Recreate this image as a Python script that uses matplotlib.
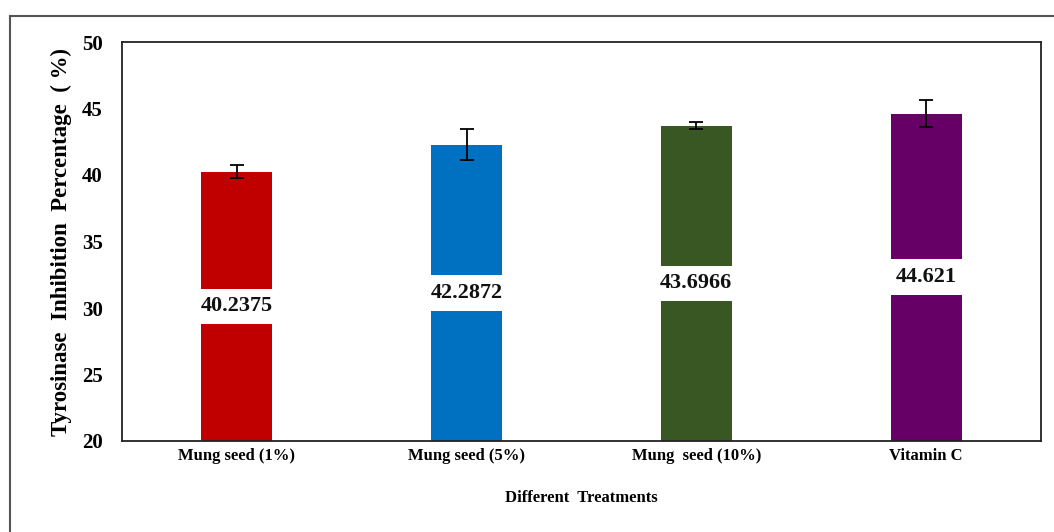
import matplotlib.pyplot as plt
from matplotlib.lines import Line2D

treatments = ["Mung seed (1%)", "Mung seed (5%)", "Mung  seed (10%)", "Vitamin C"]
inhibition = [40.2375, 42.2872, 43.6966, 44.621]
errors = [0.5, 1.15, 0.27, 1.0]
value_labels = ["40.2375", "42.2872", "43.6966", "44.621"]
bar_colors = ["#C00000", "#0070C0", "#385723", "#660066"]
y_ticks = [20, 25, 30, 35, 40, 45, 50]

plt.rcParams["font.family"] = ["Liberation Serif", "DejaVu Serif"]
plt.rcParams["font.weight"] = "bold"

fig = plt.figure(figsize=(10.54, 5.32), dpi=100)
W, H = 1054, 532
ax = fig.add_axes([122 / W, 1 - 441 / H, (1041 - 122) / W, (441 - 42) / H])

x = range(len(treatments))
ax.bar(x, [v - 20 for v in inhibition], bottom=20, width=0.31, color=bar_colors,
       yerr=errors, capsize=4.8, error_kw={"elinewidth": 1.3, "capthick": 1.3, "ecolor": "black"})

for i, (v, lab) in enumerate(zip(inhibition, value_labels)):
    ax.text(i, (20 + v) / 2, lab, ha="center", va="center", fontsize=16, fontweight="bold",
            color="#111111",
            bbox=dict(boxstyle="square,pad=0.35", facecolor="white", edgecolor="none"))

ax.set_xlim(-0.5, len(treatments) - 0.5)
ax.set_ylim(20, 50)
ax.set_yticks(y_ticks)
ax.set_yticklabels([str(t) for t in y_ticks], fontsize=15, fontweight="bold")
ax.set_xticks(list(x))
ax.set_xticklabels(treatments, fontsize=12, fontweight="bold")
ax.tick_params(length=0)
ax.tick_params(axis="x", pad=5)
ax.tick_params(axis="y", pad=14)

for s in ax.spines.values():
    s.set_linewidth(1.3)
    s.set_color("#222222")

ax.set_xlabel("Different  Treatments", fontsize=12, fontweight="bold", labelpad=19)
ax.set_ylabel("Tyrosinase  Inhibition  Percentage  ( %)", fontsize=16.5, fontweight="bold", labelpad=7)

# outer frame
fig.add_artist(Line2D([10 / W, 1.0], [1 - 16 / H, 1 - 16 / H], color="#555555", lw=1.5))
fig.add_artist(Line2D([10 / W, 10 / W], [0.0, 1 - 16 / H], color="#555555", lw=1.5))

fig.savefig("out.png", dpi=100)
